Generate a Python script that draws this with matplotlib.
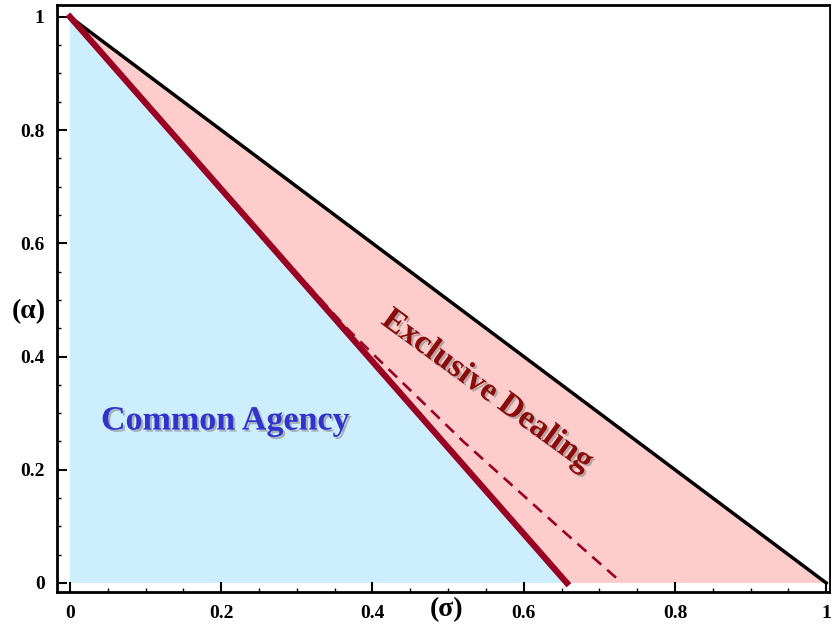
import matplotlib
matplotlib.use('Agg')
import matplotlib.pyplot as plt
import matplotlib.patheffects as pe
from matplotlib.ticker import MultipleLocator, FuncFormatter

# Boundary points
outer_sigma = [0.0, 1.0]
outer_alpha = [1.0, 0.0]
thick_sigma = [0.0, 0.657]
thick_alpha = [1.0, 0.0]
dash_sigma = [0.0, 0.131, 0.264, 0.366, 0.404, 0.520, 0.645, 0.730]
dash_alpha = [1.0, 0.8, 0.6, 0.45, 0.4, 0.25, 0.1, 0.0]

plt.rcParams['font.family'] = ['Liberation Serif', 'DejaVu Serif']
plt.rcParams['font.weight'] = 'bold'

fig = plt.figure(figsize=(8.31, 6.25), dpi=100)
ax = fig.add_axes([57 / 831, 33 / 625, 773 / 831, 587 / 625])

# Filled regions
ax.fill([thick_sigma[0], thick_sigma[1], 0.0], [thick_alpha[0], thick_alpha[1], 0.0],
        color='#cceeff', lw=0, zorder=1)
ax.fill([outer_sigma[0], outer_sigma[1], thick_sigma[1]], [outer_alpha[0], outer_alpha[1], 0.0],
        color='#ffcccc', lw=0, zorder=1)

# Boundary lines
ax.plot(outer_sigma, outer_alpha, color='black', lw=2.5, zorder=3)
ax.plot(dash_sigma, dash_alpha, color='#990022', lw=1.9, ls=(0, (4.5, 3)), zorder=3)
ax.plot(thick_sigma, thick_alpha, color='#990022', lw=4.5, zorder=4)

shadow = [pe.withSimplePatchShadow(offset=(1.5, -1.5), shadow_rgbFace='#888888', alpha=0.6)]
ax.text(0.205, 0.286, 'Common Agency', color='#3333cc', fontsize=24.5, fontweight='bold',
        ha='center', va='center', path_effects=shadow, zorder=5)
ax.text(0.552, 0.34, 'Exclusive Dealing', color='#8b0a0a', fontsize=24, fontweight='bold',
        ha='center', va='center', rotation=-36, rotation_mode='anchor',
        path_effects=shadow, zorder=5)

ax.set_xlim(-0.0172, 1.005)
ax.set_ylim(-0.016, 1.021)

ax.xaxis.set_major_locator(MultipleLocator(0.2))
ax.yaxis.set_major_locator(MultipleLocator(0.2))
ax.xaxis.set_minor_locator(MultipleLocator(0.05))
ax.yaxis.set_minor_locator(MultipleLocator(0.05))
fmt = FuncFormatter(lambda v, p: '%g' % round(v, 2))
ax.xaxis.set_major_formatter(fmt)
ax.yaxis.set_major_formatter(fmt)
ax.tick_params(which='major', direction='in', length=7, width=1.5, labelsize=14, pad=9,
               top=False, right=False)
ax.tick_params(which='minor', direction='in', length=3, width=1, top=False, right=False)
for lab in ax.get_xticklabels() + ax.get_yticklabels():
    lab.set_fontweight('bold')
for s in ax.spines.values():
    s.set_linewidth(2)

fig.text(447 / 831, 1 - 610 / 625, '(σ)', fontsize=20, fontweight='bold',
         ha='center', va='center', family=['Liberation Serif', 'DejaVu Serif'])
fig.text(29 / 831, 1 - 312 / 625, '(α)', fontsize=20, fontweight='bold',
         ha='center', va='center', family=['Liberation Serif', 'DejaVu Serif'])

fig.savefig('out.png', dpi=100)
